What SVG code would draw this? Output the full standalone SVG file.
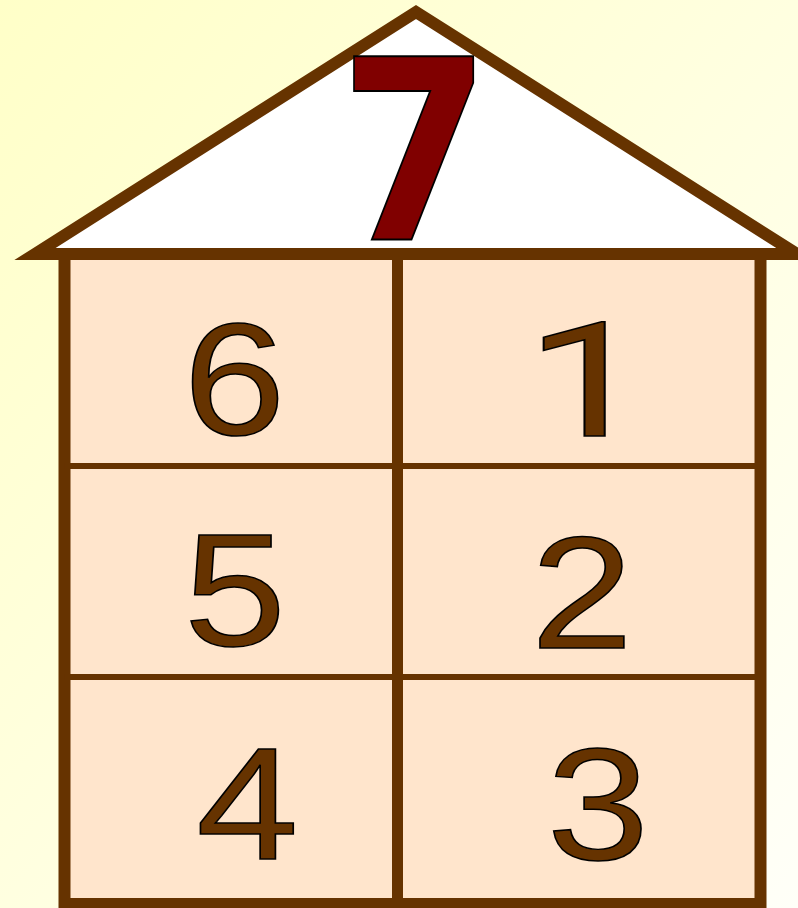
<svg xmlns="http://www.w3.org/2000/svg" width="798" height="908" viewBox="0 0 798 908">
  <defs>
    <linearGradient id="bg" x1="0" y1="0" x2="1" y2="1">
      <stop offset="0" stop-color="#FFFFC8"/>
      <stop offset="1" stop-color="#FFFFF8"/>
    </linearGradient>
  </defs>
  <style>
    .wall { fill: #FFE5CC; stroke: #663300; stroke-width: 12; }
    .div-v { stroke: #663300; stroke-width: 11; }
    .div-h { stroke: #663300; stroke-width: 6; }
    .roof { fill: #FFFFFF; stroke: #663300; stroke-width: 12; stroke-linejoin: miter; stroke-miterlimit: 10; }
    .num { font-family: "Liberation Sans", Arial, sans-serif; font-size: 160px; fill: #663300; stroke: #000000; stroke-width: 1.5; text-anchor: middle; }
    .one { font-family: Roboto, "Liberation Sans", sans-serif; }
    .top { font-family: "DejaVu Sans", "Liberation Sans", sans-serif; font-weight: bold; font-size: 251px; fill: #800000; stroke: #000000; stroke-width: 2; text-anchor: middle; }
  </style>
  <rect x="0" y="0" width="798" height="908" fill="url(#bg)"/>

  <g id="house">
    <rect class="wall" x="64.5" y="254" width="696" height="650"/>
    <line class="div-v" x1="397.5" y1="254" x2="397.5" y2="904"/>
    <line class="div-h" x1="64.5" y1="466" x2="760.5" y2="466"/>
    <line class="div-h" x1="64.5" y1="677" x2="760.5" y2="677"/>
  </g>

  <g id="roof">
    <polygon class="roof" points="35,254 416,12 797,254"/>
    <text class="top" transform="translate(415,240) scale(0.865,1)">7</text>
  </g>

  <g id="cell-6"><text class="num" transform="translate(234.5,434) scale(1.15,1)">6</text></g>
  <g id="cell-1"><text class="num one" transform="translate(588,436) scale(1.4,1)">1</text></g>
  <g id="cell-5"><text class="num" transform="translate(235,645) scale(1.15,1)">5</text></g>
  <g id="cell-2"><text class="num" transform="translate(582,648) scale(1.15,1)">2</text></g>
  <g id="cell-4"><text class="num" transform="translate(247.5,859) scale(1.15,1)">4</text></g>
  <g id="cell-3"><text class="num" transform="translate(598,859) scale(1.15,1)">3</text></g>
</svg>
